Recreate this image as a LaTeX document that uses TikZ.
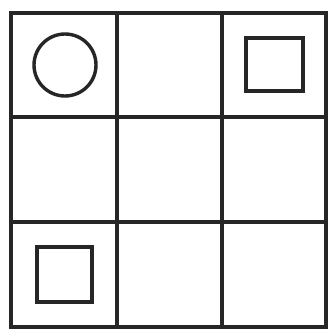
\documentclass[tikz,border=0pt]{standalone}
\begin{document}
\begin{tikzpicture}[x=1pt,y=-1pt,
  gridline/.style={line width=3.6pt,draw=black!85,line cap=rect},
  shapeline/.style={line width=3.4pt,draw=black!85}]
\useasboundingbox (0,0) rectangle (331,332);
\fill[white] (0,0) rectangle (331,332);
% grid
\foreach \x in {11,117,222,326} \draw[gridline] (\x,13) -- (\x,327);
\foreach \y in {13,117,222,327} \draw[gridline] (11,\y) -- (326,\y);
% shapes
\draw[shapeline] (65,65) circle (31);
\draw[shapeline] (246,38) rectangle (303,91);
\draw[shapeline] (37,247) rectangle (92,302);
\end{tikzpicture}
\end{document}
